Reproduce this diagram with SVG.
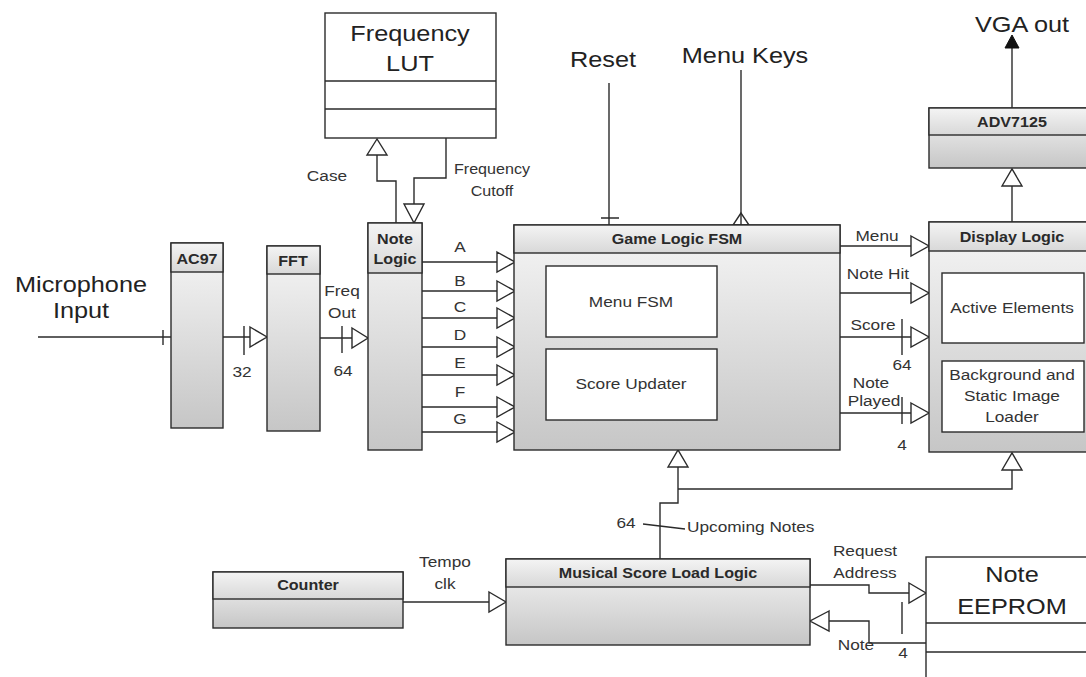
<svg xmlns="http://www.w3.org/2000/svg" width="1086" height="677" viewBox="0 0 1086 677">
<defs>
<linearGradient id="gBody" x1="0" y1="0" x2="0" y2="1">
<stop offset="0" stop-color="#f6f6f6"/>
<stop offset="1" stop-color="#c6c6c6"/>
</linearGradient>
<linearGradient id="gHead" x1="0" y1="0" x2="0" y2="1">
<stop offset="0" stop-color="#f4f4f4"/>
<stop offset="1" stop-color="#d8d8d8"/>
</linearGradient>
</defs>
<style>
.box{fill:url(#gBody);stroke:#2b2b2b;stroke-width:1.4}
.head{fill:url(#gHead);stroke:#2b2b2b;stroke-width:1.4}
.wbox{fill:#ffffff;stroke:#2b2b2b;stroke-width:1.4}
.div{stroke:#2b2b2b;stroke-width:1.4;fill:none}
.ln{stroke:#2b2b2b;stroke-width:1.4;fill:none}
.tri{fill:#ffffff;stroke:#2b2b2b;stroke-width:1.4;stroke-linejoin:miter}
.ftri{fill:#111111;stroke:#111111;stroke-width:1}
text{font-family:"Liberation Sans",Arial,sans-serif;fill:#333333;text-anchor:middle}
.big{font-size:22px;fill:#222222}
.med{font-size:15px}
.sm{font-size:14px}
.bold{font-size:14px;font-weight:bold;fill:#2a2a2a}
</style>
<rect x="0" y="0" width="1086" height="677" fill="#ffffff"/>

<g id="connectors">
<path class="ln" d="M38,337 H171 M163,330 V345"/>
<path class="ln" d="M223,337 H250 M244,326 V355"/>
<polygon class="tri" points="250,327 267,337 250,347"/>
<path class="ln" d="M320,338 H352 M342,326 V353"/>
<polygon class="tri" points="352,328 368,338 352,348"/>
<path class="ln" d="M396,223 V181 H377 V155"/>
<polygon class="tri" points="377,139 367,155 387,155"/>
<path class="ln" d="M446,138 V178 H414 V204"/>
<polygon class="tri" points="404,204 424,204 414,223"/>
<path class="ln" d="M422,262 H497 M422,291 H497 M422,318 H497 M422,347 H497 M422,375 H497 M422,407 H497 M422,432 H497"/>
<polygon class="tri" points="497,252 515,262 497,272"/>
<polygon class="tri" points="497,281 515,291 497,301"/>
<polygon class="tri" points="497,308 515,318 497,328"/>
<polygon class="tri" points="497,337 515,347 497,357"/>
<polygon class="tri" points="497,365 515,375 497,385"/>
<polygon class="tri" points="497,397 515,407 497,417"/>
<polygon class="tri" points="497,422 515,432 497,442"/>
<path class="ln" d="M609,83 V225 M601,218 H619"/>
<path class="ln" d="M741,70 V225"/>
<polygon class="tri" points="741,213 733,225 749,225" fill-opacity="0"/>
<path class="ln" d="M840,246 H911 M840,293 H911 M840,337 H911 M840,413 H911 M902,319 V355 M902,397 V424"/>
<polygon class="tri" points="911,236 929,246 911,256"/>
<polygon class="tri" points="911,283 929,293 911,303"/>
<polygon class="tri" points="911,327 929,337 911,347"/>
<polygon class="tri" points="911,403 929,413 911,423"/>
<path class="ln" d="M1012,222 V186"/>
<polygon class="tri" points="1002,186 1012,169 1022,186"/>
<path class="ln" d="M1012,108 V47"/>
<polygon class="ftri" points="1005,48 1012,35 1019,48"/>
<path class="ln" d="M660,559 V503 H678 V467 M678,489 H1012 V470"/>
<polygon class="tri" points="668,467 678,450 688,467"/>
<polygon class="tri" points="1002,470 1012,453 1022,470"/>
<path class="ln" d="M643,524 L685,529"/>
<path class="ln" d="M403,602 H489"/>
<polygon class="tri" points="489,592 506,602 489,612"/>
<path class="ln" d="M810,585 H869 V593 H909 M902,602 V634"/>
<polygon class="tri" points="909,583 926,593 909,603"/>
<path class="ln" d="M926,643 H869 V621 H829"/>
<polygon class="tri" points="829,611 810,621 829,631"/>
</g>

<g id="labels">
<text class="big" transform="translate(81,292) scale(1.15,1)">Microphone</text>
<text class="big" transform="translate(81,318) scale(1.15,1)">Input</text>
<text class="big" transform="translate(603,67) scale(1.15,1)">Reset</text>
<text class="big" transform="translate(745,63) scale(1.15,1)">Menu Keys</text>
<text class="big" transform="translate(1022,32) scale(1.15,1)">VGA out</text>
<text class="med" transform="translate(327,181) scale(1.15,1)">Case</text>
<text class="sm" transform="translate(492,174) scale(1.15,1)">Frequency</text>
<text class="sm" transform="translate(492,196) scale(1.15,1)">Cutoff</text>
<text class="med" transform="translate(342,296) scale(1.15,1)">Freq</text>
<text class="med" transform="translate(342,318) scale(1.15,1)">Out</text>
<text class="med" transform="translate(242,377) scale(1.15,1)">32</text>
<text class="med" transform="translate(343,376) scale(1.15,1)">64</text>
<text class="med" transform="translate(460,252) scale(1.15,1)">A</text>
<text class="med" transform="translate(460,286) scale(1.15,1)">B</text>
<text class="med" transform="translate(460,312) scale(1.15,1)">C</text>
<text class="med" transform="translate(460,340) scale(1.15,1)">D</text>
<text class="med" transform="translate(460,368) scale(1.15,1)">E</text>
<text class="med" transform="translate(460,397) scale(1.15,1)">F</text>
<text class="med" transform="translate(460,424) scale(1.15,1)">G</text>
<text class="med" transform="translate(877,241) scale(1.15,1)">Menu</text>
<text class="med" transform="translate(878,279) scale(1.15,1)">Note Hit</text>
<text class="med" transform="translate(873,330) scale(1.15,1)">Score</text>
<text class="med" transform="translate(902,370) scale(1.15,1)">64</text>
<text class="med" transform="translate(871,388) scale(1.15,1)">Note</text>
<text class="med" transform="translate(874,406) scale(1.15,1)">Played</text>
<text class="med" transform="translate(902,450) scale(1.15,1)">4</text>
<text class="med" transform="translate(626,528) scale(1.15,1)">64</text>
<text class="med" style="text-anchor:start" transform="translate(687,532) scale(1.15,1)">Upcoming Notes</text>
<text class="med" transform="translate(445,567) scale(1.15,1)">Tempo</text>
<text class="med" transform="translate(445,589) scale(1.15,1)">clk</text>
<text class="med" transform="translate(865,556) scale(1.15,1)">Request</text>
<text class="med" transform="translate(865,578) scale(1.15,1)">Address</text>
<text class="med" transform="translate(856,650) scale(1.15,1)">Note</text>
<text class="med" transform="translate(903,658) scale(1.15,1)">4</text>
</g>

<g id="frequencyLUT">
<rect class="wbox" x="325" y="13" width="171" height="125"/>
<path class="div" d="M325,81 H496 M325,109 H496"/>
<text class="big" transform="translate(410,41) scale(1.15,1)">Frequency</text>
<text class="big" transform="translate(410,71) scale(1.15,1)">LUT</text>
</g>

<g id="ac97">
<rect class="box" x="171" y="243" width="52" height="185"/>
<rect class="head" x="171" y="243" width="52" height="29"/>
<text class="bold" transform="translate(197,264) scale(1.15,1)">AC97</text>
</g>

<g id="fft">
<rect class="box" x="267" y="246" width="53" height="185"/>
<rect class="head" x="267" y="246" width="53" height="28"/>
<text class="bold" transform="translate(293,266) scale(1.15,1)">FFT</text>
</g>

<g id="noteLogic">
<rect class="box" x="368" y="223" width="54" height="227"/>
<rect class="head" x="368" y="223" width="54" height="50"/>
<text class="bold" transform="translate(395,244) scale(1.15,1)">Note</text>
<text class="bold" transform="translate(395,264) scale(1.15,1)">Logic</text>
</g>

<g id="gameLogicFSM">
<rect class="box" x="514" y="225" width="326" height="225"/>
<rect class="head" x="514" y="225" width="326" height="28"/>
<text class="bold" transform="translate(677,244) scale(1.15,1)">Game Logic FSM</text>
<g id="menuFSM">
<rect class="wbox" x="546" y="266" width="171" height="71"/>
<text class="med" transform="translate(631,307) scale(1.15,1)">Menu FSM</text>
</g>
<g id="scoreUpdater">
<rect class="wbox" x="546" y="349" width="171" height="71"/>
<text class="med" transform="translate(631,389) scale(1.15,1)">Score Updater</text>
</g>
</g>

<g id="adv7125">
<rect class="box" x="929" y="108" width="172" height="60"/>
<rect class="head" x="929" y="108" width="172" height="27"/>
<text class="bold" transform="translate(1012,127) scale(1.15,1)">ADV7125</text>
</g>

<g id="displayLogic">
<rect class="box" x="929" y="222" width="172" height="230"/>
<rect class="head" x="929" y="222" width="172" height="29"/>
<text class="bold" transform="translate(1012,242) scale(1.15,1)">Display Logic</text>
<g id="activeElements">
<rect class="wbox" x="942" y="273" width="142" height="70"/>
<text class="med" transform="translate(1012,313) scale(1.15,1)">Active Elements</text>
</g>
<g id="backgroundLoader">
<rect class="wbox" x="942" y="361" width="142" height="71"/>
<text class="med" transform="translate(1012,380) scale(1.15,1)">Background and</text>
<text class="med" transform="translate(1012,401) scale(1.15,1)">Static Image</text>
<text class="med" transform="translate(1012,422) scale(1.15,1)">Loader</text>
</g>
</g>

<g id="counter">
<rect class="box" x="213" y="572" width="190" height="56"/>
<rect class="head" x="213" y="572" width="190" height="27"/>
<text class="bold" transform="translate(308,590) scale(1.15,1)">Counter</text>
</g>

<g id="musicalScoreLoadLogic">
<rect class="box" x="506" y="559" width="304" height="86"/>
<rect class="head" x="506" y="559" width="304" height="28"/>
<text class="bold" transform="translate(658,578) scale(1.15,1)">Musical Score Load Logic</text>
</g>

<g id="noteEEPROM">
<rect class="wbox" x="926" y="557" width="180" height="130"/>
<path class="div" d="M926,623 H1090 M926,652 H1090"/>
<text class="big" transform="translate(1012,582) scale(1.15,1)">Note</text>
<text class="big" transform="translate(1012,614) scale(1.15,1)">EEPROM</text>
</g>
</svg>
